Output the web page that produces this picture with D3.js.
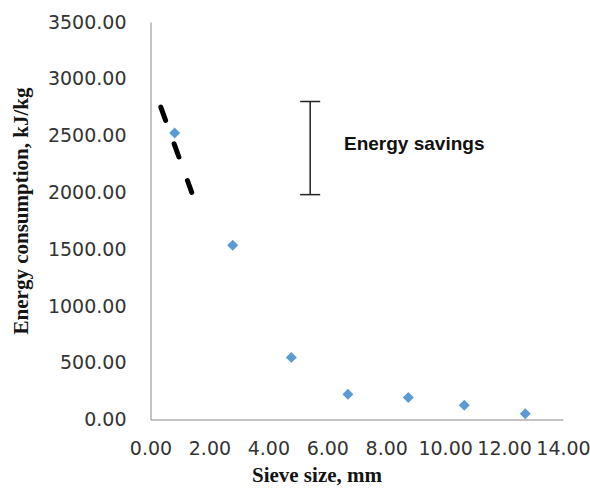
<!DOCTYPE html>
<html>
<head>
<meta charset="utf-8">
<script src="https://cdn.jsdelivr.net/npm/d3@7"></script>
<style>
    body { margin: 0; background: #fff; }
    svg { display: block; }
    .axis path { stroke: #898989; stroke-width: 1; }
    .axis text {
        font-family: "DejaVu Sans", sans-serif;
        font-size: 19px;
        fill: #333;
    }
    .axis-title {
        font-family: "Liberation Serif", "Times New Roman", serif;
        font-weight: bold;
        font-size: 21px;
        fill: #141414;
    }
    .note-text {
        font-family: "Liberation Sans", Arial, sans-serif;
        font-weight: bold;
        font-size: 19px;
        fill: #111;
    }
</style>
</head>
<body>
<svg id="svg"></svg>
<script>
// measured points
const sieveSize = [0.82, 2.79, 4.78, 6.70, 8.75, 10.65, 12.72];
const energy = [2522, 1534, 547, 223, 194, 126, 50];

// dashed trend at the small sieve end
const trendX = [0.35, 1.4];
const trendY = [2750, 2000];

// "energy savings" bracket
const savingsX = 5.42;
const savingsRange = [1980, 2800];
const savingsLabel = 'Energy savings';

const xTicks = [0, 2, 4, 6, 8, 10, 12, 14];
const yTicks = [0, 500, 1000, 1500, 2000, 2500, 3000, 3500];

const width = 590, height = 488;
const margin = {top: 22, left: 150.5, right: 27, bottom: 68.5};

const svg = d3.select('#svg')
    .attr('width', width)
    .attr('height', height);

const xScale = d3.scaleLinear()
    .domain([0, 14])
    .range([margin.left, width - margin.right]);
const yScale = d3.scaleLinear()
    .domain([0, 3500])
    .range([height - margin.bottom, margin.top]);

const fmt = d3.format('.2f');

const xAxis = d3.axisBottom(xScale)
    .tickValues(xTicks)
    .tickFormat(fmt)
    .tickSize(0)
    .tickPadding(22);
const yAxis = d3.axisLeft(yScale)
    .tickValues(yTicks)
    .tickFormat(fmt)
    .tickSize(0)
    .tickPadding(24);

svg.append('g')
    .attr('class', 'axis axis-x')
    .attr('transform', 'translate(0,' + yScale(0) + ')')
    .call(xAxis);
svg.append('g')
    .attr('class', 'axis axis-y')
    .attr('transform', 'translate(' + xScale(0) + ',0)')
    .call(yAxis);

// axis titles
svg.append('text')
    .attr('class', 'axis-title')
    .attr('x', 317)
    .attr('y', 482)
    .attr('text-anchor', 'middle')
    .text('Sieve size, mm');
svg.append('text')
    .attr('class', 'axis-title')
    .attr('transform', 'translate(28,211) rotate(-90)')
    .attr('text-anchor', 'middle')
    .text('Energy consumption, kJ/kg');

// dashed trend line
const trend = trendX.map((x, i) => ({x: x, y: trendY[i]}));
svg.append('path')
    .datum(trend)
    .attr('d', d3.line().x(d => xScale(d.x)).y(d => yScale(d.y)))
    .attr('fill', 'none')
    .attr('stroke', '#000')
    .attr('stroke-width', 5)
    .attr('stroke-linecap', 'round')
    .attr('stroke-dasharray', '14,25');

// savings bracket
const bracket = svg.append('g').attr('stroke', '#222').attr('stroke-width', 1.5);
bracket.append('line')
    .attr('x1', xScale(savingsX)).attr('x2', xScale(savingsX))
    .attr('y1', yScale(savingsRange[0])).attr('y2', yScale(savingsRange[1]));
savingsRange.forEach(v => {
    bracket.append('line')
        .attr('x1', xScale(savingsX) - 10).attr('x2', xScale(savingsX) + 10)
        .attr('y1', yScale(v)).attr('y2', yScale(v));
});
svg.append('text')
    .attr('class', 'note-text')
    .attr('x', 344)
    .attr('y', 150)
    .text(savingsLabel);

// points
const points = sieveSize.map((x, i) => ({x: x, y: energy[i]}));
svg.append('g')
    .selectAll('path')
    .data(points)
    .enter()
    .append('path')
    .attr('d', d3.symbol().type(d3.symbolSquare).size(60))
    .attr('transform', d => 'translate(' + xScale(d.x) + ',' + yScale(d.y) + ') rotate(45)')
    .attr('fill', '#5b9bd5');
</script>
</body>
</html>
